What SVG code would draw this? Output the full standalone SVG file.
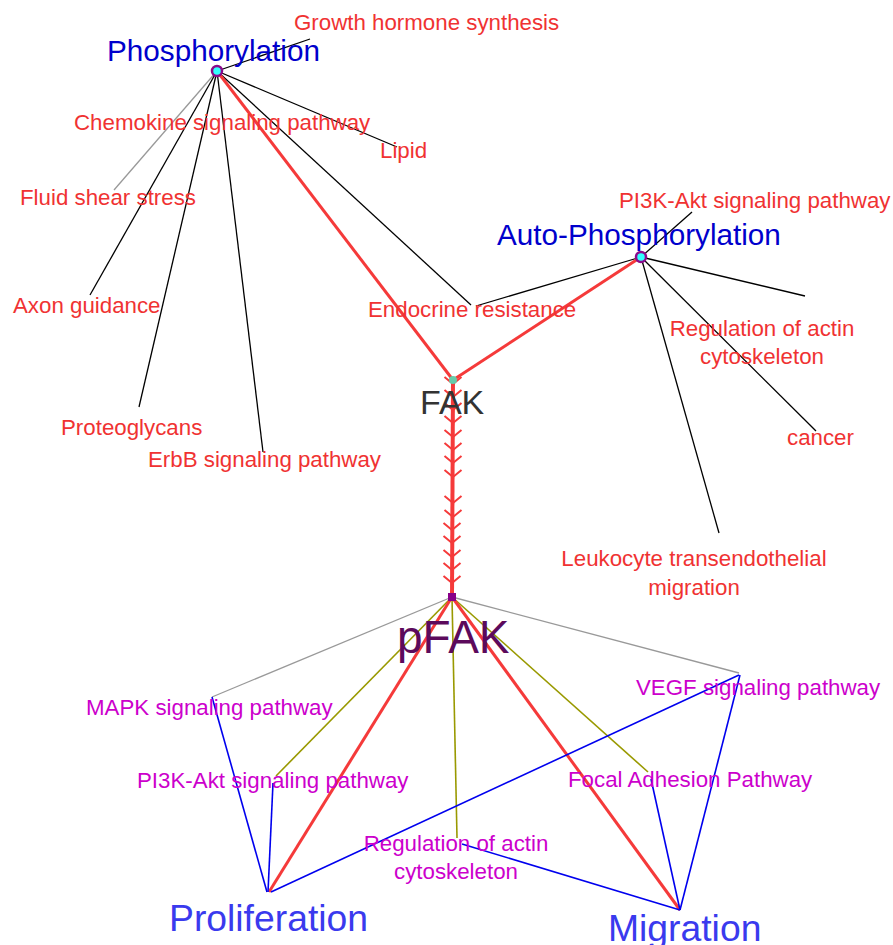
<svg xmlns="http://www.w3.org/2000/svg" width="893" height="945" viewBox="0 0 893 945">
<defs>
<style>
text{font-family:"Liberation Sans",Arial,sans-serif;}
.r{fill:#f03232;font-size:22.3px;}
.m{fill:#cc00cc;font-size:22.3px;}
.h{fill:#0000cc;font-size:29.7px;}
.b{fill:#3a3aee;font-size:37.3px;}
.k{stroke:#000;stroke-width:1.3;fill:none;}
.g{stroke:#999;stroke-width:1.3;fill:none;}
.rd{stroke:#f53a3a;stroke-width:3;fill:none;}
.o{stroke:#999900;stroke-width:1.6;fill:none;}
.bl{stroke:#0000ee;stroke-width:1.6;fill:none;}
.hub{fill:#33ffff;stroke:#8b0a8b;stroke-width:2.5;}
</style>
<path id="chev" d="M-8.5,-7 L0,0 L8.5,-7" stroke="#f53a3a" stroke-width="2" fill="none"/>
</defs>
<rect width="893" height="945" fill="#fff"/>
<g id="connectors">
<line class="g" x1="217" y1="71" x2="114" y2="190"/>
<line class="k" x1="217" y1="71" x2="90" y2="295"/>
<line class="k" x1="217" y1="71" x2="139" y2="407"/>
<line class="k" x1="217" y1="71" x2="263" y2="452"/>
<line class="k" x1="217" y1="71" x2="471" y2="305"/>
<line class="k" x1="217" y1="71" x2="397" y2="147"/>
<line class="k" x1="217" y1="71" x2="310" y2="39"/>
<line class="k" x1="641" y1="257" x2="692" y2="212"/>
<line class="k" x1="641" y1="257" x2="476" y2="306"/>
<line class="k" x1="641" y1="257" x2="805" y2="296"/>
<line class="k" x1="641" y1="257" x2="816" y2="431"/>
<line class="k" x1="641" y1="257" x2="719" y2="533"/>
<line class="rd" x1="217" y1="71" x2="453" y2="380"/>
<line class="rd" x1="641" y1="257" x2="453" y2="380"/>
<line x1="453" y1="380" x2="452" y2="597" stroke="#f53a3a" stroke-width="4"/>
<use href="#chev" x="453" y="384"/>
<use href="#chev" x="453" y="397"/>
<use href="#chev" x="453" y="410"/>
<use href="#chev" x="453" y="423"/>
<use href="#chev" x="453" y="437"/>
<use href="#chev" x="453" y="450"/>
<use href="#chev" x="453" y="463"/>
<use href="#chev" x="453" y="477"/>
<use href="#chev" x="453" y="503"/>
<use href="#chev" x="453" y="517"/>
<use href="#chev" x="452" y="530"/>
<use href="#chev" x="452" y="543"/>
<use href="#chev" x="452" y="557"/>
<use href="#chev" x="452" y="570"/>
<use href="#chev" x="452" y="583"/>
<line class="g" x1="452" y1="597" x2="212" y2="697"/>
<line class="g" x1="452" y1="597" x2="739" y2="673"/>
<line class="o" x1="452" y1="597" x2="276" y2="776"/>
<line class="o" x1="452" y1="597" x2="457" y2="838"/>
<line class="o" x1="452" y1="597" x2="648" y2="772"/>
<line class="rd" x1="452" y1="597" x2="269" y2="892"/>
<line class="rd" x1="452" y1="597" x2="680" y2="910"/>
<line class="bl" x1="212" y1="697" x2="267" y2="892"/>
<line class="bl" x1="273" y1="783" x2="268" y2="892"/>
<line class="bl" x1="271" y1="892" x2="739" y2="675"/>
<line class="bl" x1="462" y1="844" x2="680" y2="910"/>
<line class="bl" x1="740" y1="675" x2="680" y2="910"/>
<line class="bl" x1="651" y1="779" x2="680" y2="910"/>
</g>
<g id="n-phosphorylation"><circle class="hub" cx="217" cy="71" r="5"/><text class="h" x="107" y="61">Phosphorylation</text></g>
<g id="n-autophosphorylation"><circle class="hub" cx="641" cy="257" r="5"/><text class="h" x="497" y="245">Auto-Phosphorylation</text></g>
<g id="n-fak"><circle cx="453" cy="380" r="4" fill="#66ccaa"/><text x="420" y="414" font-size="34" fill="#333">FAK</text></g>
<g id="n-pfak"><rect x="448" y="593" width="8" height="8" fill="#880088"/><text x="397" y="653" font-size="46" fill="#5c0a5c">pFAK</text></g>
<g id="n-growth"><text class="r" x="294" y="30">Growth hormone synthesis</text></g>
<g id="n-chemokine"><text class="r" x="74" y="130">Chemokine signaling pathway</text></g>
<g id="n-lipid"><text class="r" x="380" y="158">Lipid</text></g>
<g id="n-fluid"><text class="r" x="20" y="205">Fluid shear stress</text></g>
<g id="n-axon"><text class="r" x="13" y="313">Axon guidance</text></g>
<g id="n-proteoglycans"><text class="r" x="61" y="435">Proteoglycans</text></g>
<g id="n-erbb"><text class="r" x="148" y="467">ErbB signaling pathway</text></g>
<g id="n-endocrine"><text class="r" x="368" y="317">Endocrine resistance</text></g>
<g id="n-pi3k-top"><text class="r" x="619" y="208">PI3K-Akt signaling pathway</text></g>
<g id="n-regulation-top"><text class="r" text-anchor="middle" x="762" y="336">Regulation of actin</text><text class="r" text-anchor="middle" x="762" y="364">cytoskeleton</text></g>
<g id="n-cancer"><text class="r" x="787" y="445">cancer</text></g>
<g id="n-leukocyte"><text class="r" text-anchor="middle" x="694" y="566">Leukocyte transendothelial</text><text class="r" text-anchor="middle" x="694" y="595">migration</text></g>
<g id="n-mapk"><text class="m" x="86" y="715">MAPK signaling pathway</text></g>
<g id="n-vegf"><text class="m" x="636" y="695">VEGF signaling pathway</text></g>
<g id="n-pi3k-bottom"><text class="m" x="137" y="788">PI3K-Akt signaling pathway</text></g>
<g id="n-focal"><text class="m" x="568" y="787">Focal Adhesion Pathway</text></g>
<g id="n-regulation-bottom"><text class="m" text-anchor="middle" x="456" y="851">Regulation of actin</text><text class="m" text-anchor="middle" x="456" y="879">cytoskeleton</text></g>
<g id="n-proliferation"><text class="b" x="169" y="931">Proliferation</text></g>
<g id="n-migration"><text class="b" x="608" y="941">Migration</text></g>
</svg>
